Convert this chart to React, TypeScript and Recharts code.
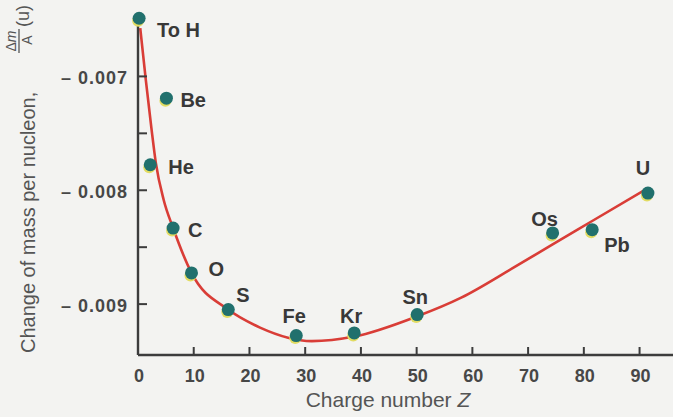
import { ComposedChart, Line, Scatter, XAxis, YAxis } from 'recharts';

// smooth fitted curve
const CURVE_Z = [0.4, 1.4, 2.4, 3.2, 4.6, 6.3, 9.6, 16.2, 21.9, 31.2, 38.8, 50.1, 58, 67.3, 74.4, 81.5, 91.5];
const CURVE_DM = [
  -0.006575, -0.007031, -0.007452, -0.007759, -0.008083, -0.008332, -0.008726, -0.009048,
  -0.009206, -0.009325, -0.009285, -0.009107, -0.008943, -0.008682, -0.008475, -0.00827, -0.007981,
];

// measured nuclei
const ELEMENTS = ['H', 'Be', 'He', 'C', 'O', 'S', 'Fe', 'Kr', 'Sn', 'Os', 'Pb', 'U'];
const ELEMENT_TEXT = ['To H', 'Be', 'He', 'C', 'O', 'S', 'Fe', 'Kr', 'Sn', 'Os', 'Pb', 'U'];
const ELEMENT_Z = [0.2, 5.1, 2.2, 6.3, 9.6, 16.2, 28.4, 38.8, 50.1, 74.4, 81.5, 91.5];
const ELEMENT_DM = [
  -0.006489, -0.007191, -0.007776, -0.008332, -0.008726, -0.009048,
  -0.009276, -0.009253, -0.009092, -0.008375, -0.008346, -0.008025,
];

const X_TICKS = [0, 10, 20, 30, 40, 50, 60, 70, 80, 90];
const Y_TICKS = [-0.009, -0.0085, -0.008, -0.0075, -0.007];

const curveData = CURVE_Z.map((z, i) => ({ z, dm: CURVE_DM[i] }));
const pointData = ELEMENTS.map((el, i) => ({ el, text: ELEMENT_TEXT[i], z: ELEMENT_Z[i], dm: ELEMENT_DM[i] }));

const LABEL_POS: Record<string, { dx: number; dy: number; anchor: 'start' | 'middle' }> = {
  H: { dx: 18, dy: 12, anchor: 'start' },
  Be: { dx: 14, dy: 2, anchor: 'start' },
  He: { dx: 18, dy: 2, anchor: 'start' },
  C: { dx: 15, dy: 2, anchor: 'start' },
  O: { dx: 17, dy: -4, anchor: 'start' },
  S: { dx: 8, dy: -15, anchor: 'start' },
  Fe: { dx: -2, dy: -20, anchor: 'middle' },
  Kr: { dx: -3, dy: -17, anchor: 'middle' },
  Sn: { dx: -2, dy: -18, anchor: 'middle' },
  Os: { dx: -8, dy: -14, anchor: 'middle' },
  Pb: { dx: 12, dy: 15, anchor: 'start' },
  U: { dx: -5, dy: -25, anchor: 'middle' },
};

const FONT = '"Liberation Sans", Arial, sans-serif';
const AXIS = '#3c3c3c';
const TEXT = '#474747';
const RED = '#d93d37';
const TEAL = '#21706d';
const YELLOW = '#e2dc62';

function YTick({ x, y, payload }: any) {
  const v = payload.value as number;
  const major = Math.abs(v * 1000 - Math.round(v * 1000)) < 1e-6;
  return (
    <g>
      <line x1={x} x2={x + 9} y1={y} y2={y} stroke={AXIS} strokeWidth={2} />
      {major && (
        <text x={x - 10} y={y + 2} textAnchor="end" dominantBaseline="central"
          fontFamily={FONT} fontWeight="bold" fontSize={18} letterSpacing={1} fill={TEXT}>
          {'– ' + Math.abs(v).toFixed(3)}
        </text>
      )}
    </g>
  );
}

function XTick({ x, y, payload }: any) {
  return (
    <g>
      <line x1={x} x2={x} y1={y} y2={y - 8} stroke={AXIS} strokeWidth={2} />
      <text x={x + 1} y={y + 21} textAnchor="middle" dominantBaseline="central"
        fontFamily={FONT} fontWeight="bold" fontSize={18} fill={TEXT}>
        {payload.value}
      </text>
    </g>
  );
}

function NucleusDot({ cx, cy, payload }: any) {
  const pos = LABEL_POS[payload.el];
  return (
    <g>
      <circle cx={cx - 1} cy={cy + 2.5} r={6} fill={YELLOW} />
      <circle cx={cx} cy={cy} r={6.5} fill={TEAL} />
      <text x={cx + pos.dx} y={cy + pos.dy} textAnchor={pos.anchor} dominantBaseline="central"
        fontFamily={FONT} fontWeight="bold" fontSize={20} fill="#383838">
        {payload.text}
      </text>
    </g>
  );
}

function XTitle() {
  return (
    <text x={388} y={407} textAnchor="middle" fontFamily={FONT} fontSize={21} fill="#555">
      Charge number <tspan fontStyle="italic">Z</tspan>
    </text>
  );
}

function YTitle() {
  return (
    <g transform="rotate(-90)" fontFamily={FONT} fill="#555">
      <text x={-353} y={35} fontSize={20}>Change of mass per nucleon,</text>
      <text x={-41} y={16} fontSize={14} textAnchor="middle">
        Δ<tspan fontStyle="italic">m</tspan>
      </text>
      <line x1={-53} x2={-29} y1={19} y2={19} stroke="#555" strokeWidth={1.3} />
      <text x={-40} y={32} fontSize={14} textAnchor="middle">A</text>
      <text x={-16} y={29} fontSize={18} textAnchor="middle">(u)</text>
    </g>
  );
}

export default function App() {
  return (
    <div style={{ position: 'absolute', left: 0, top: 0, width: 673, height: 417, background: '#f3f3f1' }}>
      <ComposedChart width={673} height={417} margin={{ top: 18, right: 0, bottom: 0, left: 0 }}>
        <XAxis
          type="number"
          dataKey="z"
          domain={[0, 96]}
          ticks={X_TICKS}
          interval={0}
          height={62}
          tickSize={0}
          tickMargin={0}
          tickLine={false}
          axisLine={{ stroke: AXIS, strokeWidth: 2.4 }}
          tick={<XTick />}
          label={{ content: () => <XTitle /> }}
        />
        <YAxis
          type="number"
          dataKey="dm"
          domain={[-0.009447, -0.006487]}
          ticks={Y_TICKS}
          interval={0}
          width={138}
          tickSize={0}
          tickMargin={0}
          tickLine={false}
          axisLine={{ stroke: AXIS, strokeWidth: 2.4 }}
          tick={<YTick />}
          label={{ content: () => <YTitle /> }}
        />
        <Line
          data={curveData}
          dataKey="dm"
          type="monotone"
          stroke={RED}
          strokeWidth={2.6}
          dot={false}
          activeDot={false}
          isAnimationActive={false}
        />
        <Scatter data={pointData} dataKey="dm" shape={<NucleusDot />} isAnimationActive={false} />
      </ComposedChart>
    </div>
  );
}
